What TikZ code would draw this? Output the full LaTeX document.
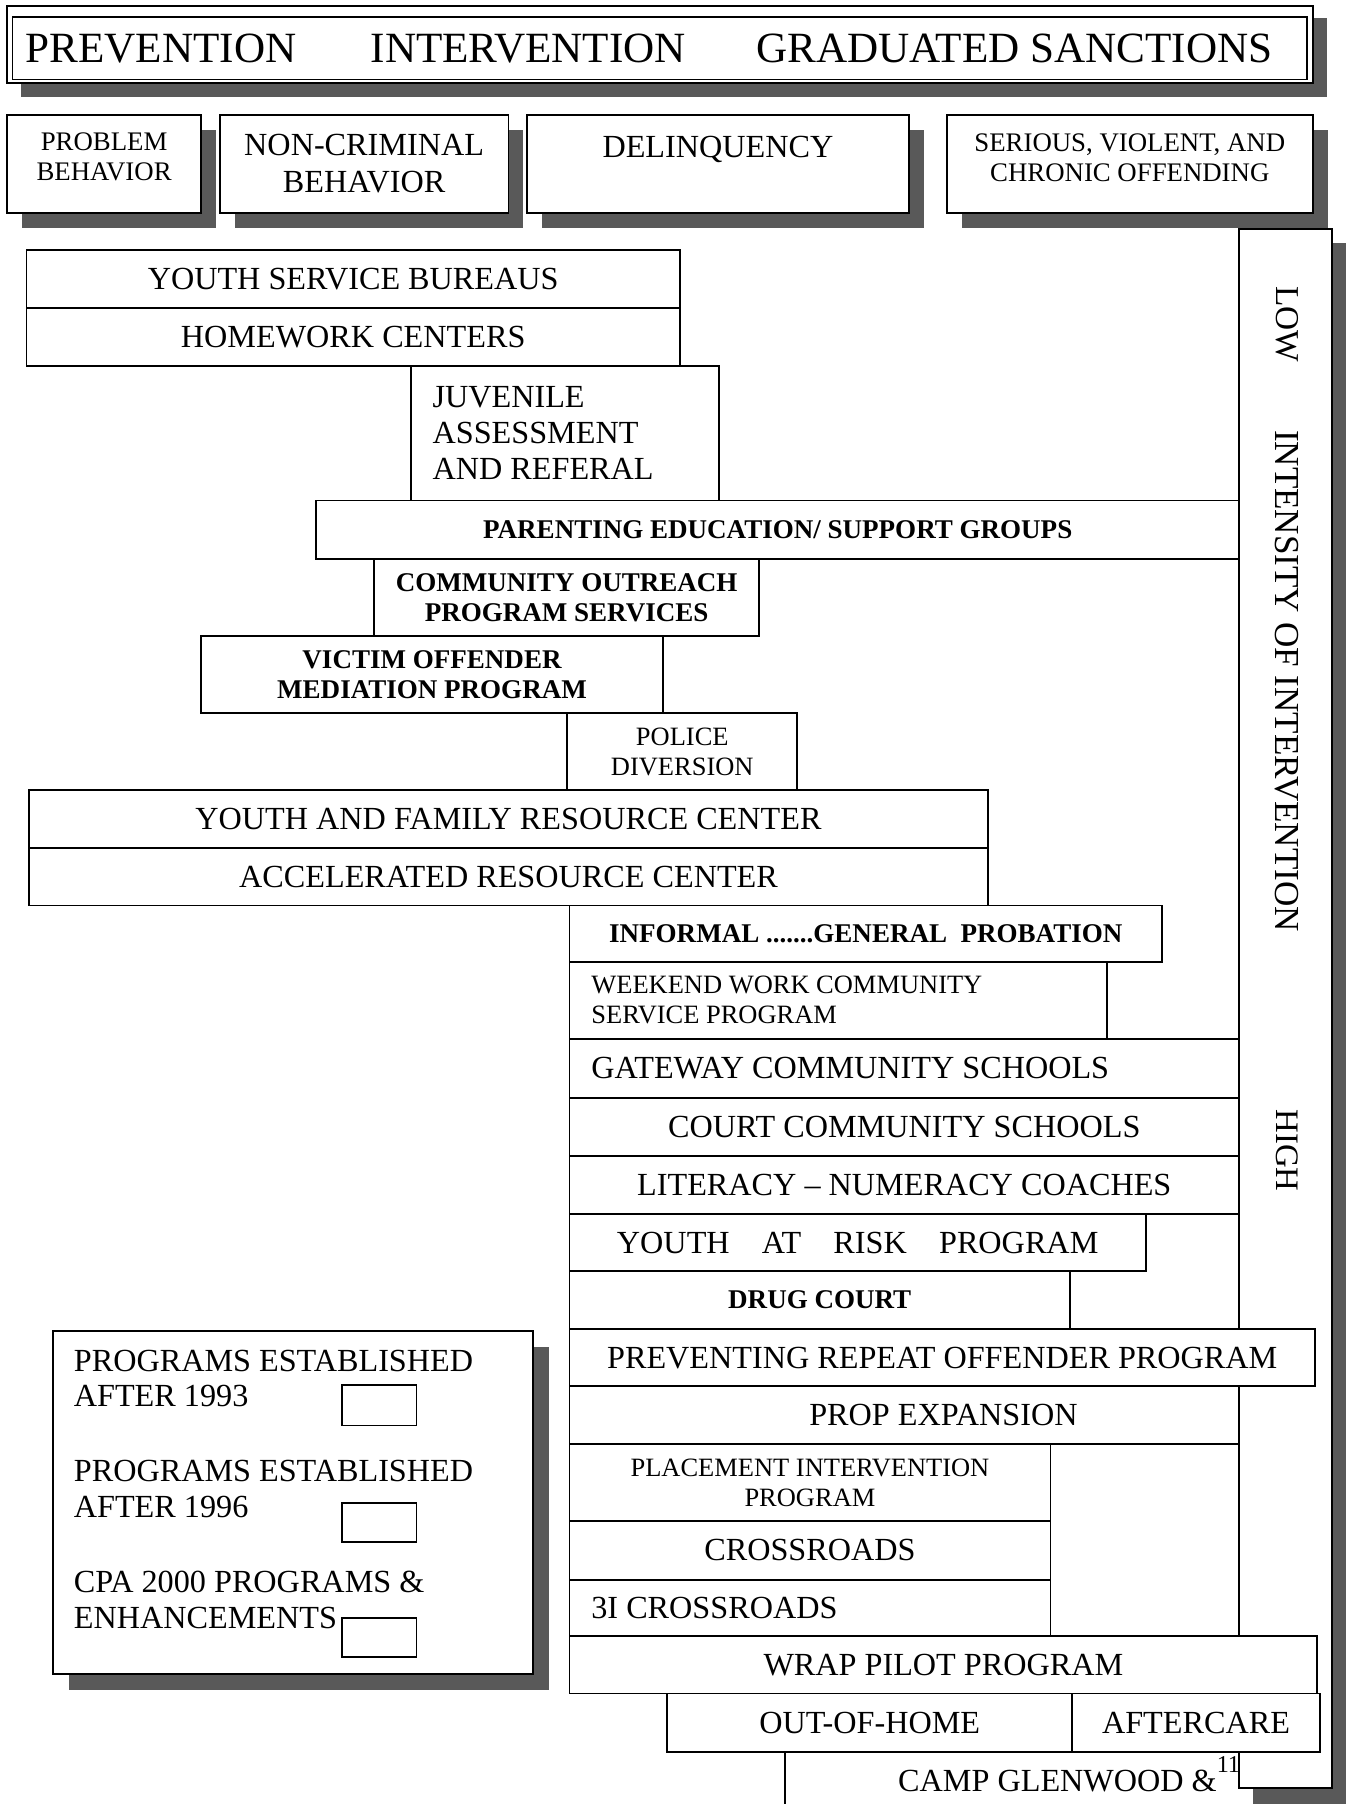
\documentclass[tikz,border=0pt]{standalone}
\usepackage{fontspec}
\setmainfont{Liberation Serif}
\newcommand\mkbox[7][]{%
  \pgfmathsetmacro\PBw{#5-#3}%
  \pgfmathsetmacro\PBh{#6-#4}%
  \pgfmathsetmacro\PBtw{#5-#3-38}%
  \node[pbox,minimum width=\PBw pt,minimum height=\PBh pt,anchor=north west,#1] (#2) at (#3,#4) {#7};}
\begin{document}
\begin{tikzpicture}[x=1pt,y=-1pt,
  pbox/.style={draw, line width=1.6pt, fill=white, inner sep=0pt, outer sep=0pt, rectangle, align=center},
  shad/.style={fill=black!65, draw=none},
  R/.style={font=\fontsize{28}{31.5}\selectfont},
  B/.style={font=\bfseries\fontsize{23.5}{26}\selectfont},
  S/.style={font=\fontsize{23}{26}\selectfont},
  lft/.style={align=flush left, text width=\PBtw pt, inner xsep=19pt},
  txt/.style={inner sep=0pt, align=center, text depth=0pt},
  boxline/.style={line width=1.6pt}
]
\useasboundingbox (0,0) rectangle (1170,1568);
\clip (0,0) rectangle (1170,1568);
\fill[white] (0,0) rectangle (1170,1568);

% ---------- title ----------
\fill[shad] (18,16) rectangle (1153,84);
\node[draw, line width=1.4pt, fill=white, inner sep=0pt, outer sep=0pt, minimum width=1135pt, minimum height=67pt, anchor=north west] (title) at (6,5) {};
\node[draw, line width=1.4pt, inner sep=0pt, outer sep=0pt, minimum width=1125pt, minimum height=54pt, anchor=north west] (titlein) at (11,15) {};
\node[inner sep=0pt, anchor=base west, font=\fontsize{37.5}{40}\selectfont] (t1) at (22,54) {PREVENTION};
\node[inner sep=0pt, anchor=base west, font=\fontsize{37.5}{40}\selectfont] (t2) at (322,54) {INTERVENTION};
\node[inner sep=0pt, anchor=base west, font=\fontsize{37.5}{40}\selectfont] (t3) at (657,54) {GRADUATED SANCTIONS};

% ---------- categories ----------
\fill[shad] (19,113) rectangle (188,198);
\fill[shad] (204,113) rectangle (455,198);
\fill[shad] (471,113) rectangle (803,198);
\fill[shad] (836,113) rectangle (1154,198);
\mkbox{pb}{6}{100}{175}{185}{}
\mkbox{nc}{191}{100}{442}{185}{}
\mkbox{dl}{458}{100}{790}{185}{}
\mkbox{sv}{823}{100}{1141}{185}{}
\node[txt, font=\fontsize{23.3}{26}\selectfont] (pbT) at (90.5,136.5) {PROBLEM\\BEHAVIOR};
\node[txt, font=\fontsize{28}{32}\selectfont] (ncT) at (316.5,142) {NON-CRIMINAL\\BEHAVIOR};
\node[txt, font=\fontsize{28}{32}\selectfont] (dlT) at (624,128) {DELINQUENCY};
\node[txt, font=\fontsize{23.3}{26}\selectfont] (svT) at (982,137) {SERIOUS, VIOLENT, AND\\CHRONIC OFFENDING};

% ---------- intensity bar ----------
\fill[shad] (1089,211) rectangle (1170,1568);
\mkbox{bar}{1077}{199}{1158}{1554}{}
\node[txt, rotate=-90, font=\fontsize{29}{30}\selectfont] (low) at (1119,282) {LOW};
\node[txt, rotate=-90, font=\fontsize{30.5}{32}\selectfont] (ioi) at (1119,592) {INTENSITY OF INTERVENTION};
\node[txt, rotate=-90, font=\fontsize{28.5}{30}\selectfont] (high) at (1119,1000) {HIGH};

% ---------- programs ----------
\mkbox[R]{ysb}{23}{217}{591}{268}{YOUTH SERVICE BUREAUS}
\mkbox[R]{hw}{23}{268}{591}{318}{HOMEWORK CENTERS}
\mkbox[R,lft]{jar}{357}{318}{625}{435}{JUVENILE\\ASSESSMENT\\AND REFERAL}
\mkbox[B]{peg}{275}{435}{1077}{486}{PARENTING EDUCATION/ SUPPORT GROUPS}
\mkbox[B]{cop}{325}{486}{660}{553}{COMMUNITY OUTREACH\\PROGRAM SERVICES}
\mkbox[B]{vom}{175}{553}{576}{620}{VICTIM OFFENDER\\MEDIATION PROGRAM}
\mkbox[S]{pd}{493}{620}{693}{687}{POLICE\\DIVERSION}
\mkbox[R]{yfrc}{25}{687}{859}{737}{YOUTH AND FAMILY RESOURCE CENTER}
\mkbox[R]{arc}{25}{737}{859}{787}{ACCELERATED RESOURCE CENTER}
\mkbox[B]{igp}{495}{787}{1010}{836}{INFORMAL .......GENERAL\ \ PROBATION}
\mkbox[S,lft]{wwc}{495}{836}{962}{903}{WEEKEND WORK COMMUNITY\\SERVICE PROGRAM}
\mkbox[R,lft]{gcs}{495}{903}{1077}{954}{GATEWAY COMMUNITY SCHOOLS}
\mkbox[R]{ccs}{495}{954}{1077}{1005}{COURT COMMUNITY SCHOOLS}
\mkbox[R]{lnc}{495}{1005}{1077}{1055}{LITERACY -- NUMERACY COACHES}
\mkbox[R]{yar}{495}{1055}{996}{1105}{YOUTH\quad AT\quad RISK\quad PROGRAM}
\mkbox[B]{dc}{495}{1105}{930}{1155}{DRUG COURT}
\mkbox[R]{prop}{495}{1155}{1143}{1205}{PREVENTING REPEAT OFFENDER PROGRAM}
\mkbox[R]{pexp}{495}{1205}{1077}{1255}{\hspace*{68pt}PROP EXPANSION}
\mkbox[S]{pip}{495}{1255}{913}{1322}{PLACEMENT INTERVENTION\\PROGRAM}
\mkbox[R]{cr}{495}{1322}{913}{1373}{CROSSROADS}
\mkbox[R,lft]{cr3}{495}{1373}{913}{1422}{3I CROSSROADS}
\mkbox[R]{wrap}{495}{1422}{1145}{1472}{WRAP PILOT PROGRAM}
\mkbox[R]{ooh}{580}{1472}{932}{1523}{OUT-OF-HOME}
\mkbox[R]{aft}{932}{1472}{1147}{1523}{AFTERCARE}
\coordinate (campTL) at (682,1523);
\coordinate (campBL) at (682,1575);
\draw[boxline] (campTL) -- (campBL);
\node[inner sep=0pt, anchor=base east, font=\fontsize{28}{30}\selectfont] (campT) at (1078,1557) {CAMP GLENWOOD \&\raisebox{16pt}{\fontsize{21}{21}\selectfont 11}};

% ---------- legend ----------
\fill[shad] (60,1171) rectangle (477,1469);
\mkbox{legend}{46}{1157}{463}{1455}{}
\node[txt, R, anchor=west] (lg1a) at (64,1183) {PROGRAMS ESTABLISHED};
\node[txt, R, anchor=west] (lg1b) at (64,1213) {AFTER 1993};
\node[txt, R, anchor=west] (lg2a) at (64,1278) {PROGRAMS ESTABLISHED};
\node[txt, R, anchor=west] (lg2b) at (64,1310) {AFTER 1996};
\node[txt, R, anchor=west] (lg3a) at (64,1375) {CPA 2000 PROGRAMS \&};
\node[txt, R, anchor=west] (lg3b) at (64,1406) {ENHANCEMENTS};
\mkbox{sb1}{297}{1204}{362}{1239}{}
\mkbox{sb2}{297}{1306}{362}{1340}{}
\mkbox{sb3}{297}{1406}{362}{1440}{}
\end{tikzpicture}
\end{document}
